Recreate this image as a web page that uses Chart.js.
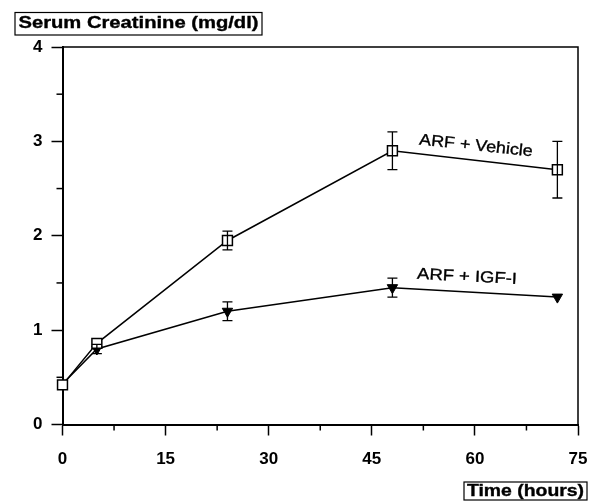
<!DOCTYPE html>
<html>
<head>
<meta charset="utf-8">
<script src="https://cdn.jsdelivr.net/npm/chart.js@4"></script>
<style>
  html, body { margin: 0; padding: 0; background: #fff; }
  #wrap { width: 596px; height: 501px; position: relative; }
</style>
</head>
<body>
<div id="wrap"><canvas id="c" width="596" height="501"></canvas></div>
<script>
// ---- data ----
const timeHours = [0, 5, 24, 48, 72];
const vehicleMean = [0.42, 0.86, 1.95, 2.9, 2.7];
const vehicleErr = [0.03, 0.04, 0.1, 0.2, 0.3];
const igfMean = [0.43, 0.8, 1.2, 1.45, 1.35];
const igfErr = [0.03, 0.05, 0.1, 0.1, 0.03];
const xMinorTicks = [7.5, 22.5, 37.5, 52.5, 67.5];
const yMinorTicks = [0.5, 1.5, 2.5, 3.5];
const yTitle = 'Serum Creatinine (mg/dl)';
const xTitle = 'Time (hours)';
const seriesLabels = ['ARF + Vehicle', 'ARF + IGF-I'];

const FONT = '"Liberation Sans", Arial, sans-serif';

function toPoints(xs, ys) { return xs.map((x, i) => ({ x: x, y: ys[i] })); }

function drawScaledText(ctx, text, font, cx, cy, targetW, angleDeg) {
  ctx.save();
  ctx.font = font;
  const w = ctx.measureText(text).width;
  const sx = targetW / w;
  ctx.translate(cx, cy);
  ctx.rotate(angleDeg * Math.PI / 180);
  ctx.scale(sx, 1);
  ctx.fillStyle = '#000';
  ctx.strokeStyle = '#000';
  ctx.lineWidth = 0.35;
  ctx.textAlign = 'center';
  ctx.textBaseline = 'middle';
  ctx.fillText(text, 0, 0);
  ctx.strokeText(text, 0, 0);
  ctx.restore();
}

const decor = {
  id: 'decor',
  afterDatasetsDraw(chart) {
    const ctx = chart.ctx;
    const xs = chart.scales.x, ys = chart.scales.y;
    const a = chart.chartArea;
    ctx.save();
    ctx.strokeStyle = '#000';
    // frame top & right
    ctx.lineWidth = 1.5;
    ctx.beginPath();
    ctx.moveTo(a.left, a.top);
    ctx.lineTo(a.right, a.top);
    ctx.lineTo(a.right, a.bottom);
    ctx.stroke();
    // minor ticks
    ctx.lineWidth = 1.5;
    xMinorTicks.forEach(v => {
      const px = xs.getPixelForValue(v);
      ctx.beginPath(); ctx.moveTo(px, a.bottom); ctx.lineTo(px, a.bottom + 6); ctx.stroke();
    });
    yMinorTicks.forEach(v => {
      const py = ys.getPixelForValue(v);
      ctx.beginPath(); ctx.moveTo(a.left, py); ctx.lineTo(a.left - 6, py); ctx.stroke();
    });
    // error bars
    const series = [[vehicleMean, vehicleErr], [igfMean, igfErr]];
    ctx.lineWidth = 1.3;
    series.forEach(([m, e]) => {
      timeHours.forEach((t, i) => {
        if (e[i] < 0.05) return;
        const px = xs.getPixelForValue(t);
        const top = ys.getPixelForValue(m[i] + e[i]);
        const bot = ys.getPixelForValue(m[i] - e[i]);
        ctx.beginPath();
        ctx.moveTo(px, top); ctx.lineTo(px, bot);
        ctx.moveTo(px - 5, top); ctx.lineTo(px + 5, top);
        ctx.moveTo(px - 5, bot); ctx.lineTo(px + 5, bot);
        ctx.stroke();
      });
    });
    // series labels
    drawScaledText(ctx, seriesLabels[0], '16px ' + FONT, 476, 146, 114, 6);
    drawScaledText(ctx, seriesLabels[1], '16px ' + FONT, 467, 277, 100, 2.9);
    // titles with boxes
    drawScaledText(ctx, yTitle, 'bold 16px ' + FONT, 138.5, 24, 240, 0);
    ctx.lineWidth = 1.2;
    ctx.strokeRect(15, 12.5, 247, 22.5);
    drawScaledText(ctx, xTitle, 'bold 16px ' + FONT, 525.5, 491.5, 117, 0);
    ctx.strokeRect(464, 482, 123, 18);
    ctx.restore();
  }
};

new Chart(document.getElementById('c'), {
  type: 'line',
  data: {
    datasets: [
      {
        label: seriesLabels[0],
        data: toPoints(timeHours, vehicleMean),
        borderColor: '#000', borderWidth: 1.5,
        pointStyle: 'rect', pointRadius: 7, pointBorderWidth: 1.5,
        pointBackgroundColor: '#fff', pointBorderColor: '#000',
        tension: 0, fill: false, clip: false
      },
      {
        label: seriesLabels[1],
        data: toPoints(timeHours, igfMean),
        borderColor: '#000', borderWidth: 1.5,
        pointStyle: 'triangle', pointRotation: 180, pointRadius: 6, pointBorderWidth: 1,
        pointBackgroundColor: '#000', pointBorderColor: '#000',
        tension: 0, fill: false, clip: false
      }
    ]
  },
  options: {
    responsive: false,
    animation: false,
    devicePixelRatio: 1,
    layout: { autoPadding: false, padding: { left: 0, right: 18, top: 47, bottom: 0 } },
    plugins: { legend: { display: false }, tooltip: { enabled: false } },
    scales: {
      x: {
        type: 'linear', min: 0, max: 75,
        ticks: { stepSize: 15, color: '#000', font: { family: FONT, size: 17, weight: 'bold' }, padding: 14, maxRotation: 0 },
        grid: { drawOnChartArea: false, drawTicks: true, tickLength: 11, tickColor: '#000', tickWidth: 1.5 },
        border: { color: '#000', width: 2 },
        afterFit(s) { s.height = 76.5; s.paddingLeft = 0; s.paddingRight = 0; }
      },
      y: {
        min: 0, max: 4,
        ticks: { stepSize: 1, color: '#000', font: { family: FONT, size: 17, weight: 'bold' }, padding: 9 },
        grid: { drawOnChartArea: false, drawTicks: true, tickLength: 11, tickColor: '#000', tickWidth: 1.5 },
        border: { color: '#000', width: 2 },
        afterFit(s) { s.width = 62.5; s.paddingTop = 0; s.paddingBottom = 0; }
      }
    }
  },
  plugins: [decor]
});
</script>
</body>
</html>
